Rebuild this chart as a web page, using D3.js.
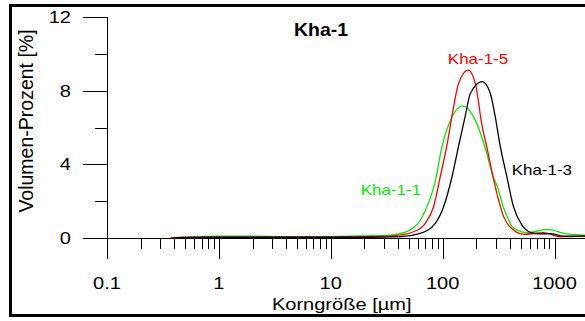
<!DOCTYPE html>
<html><head><meta charset="utf-8">
<script src="https://cdn.jsdelivr.net/npm/d3@7"></script>
<style>body{margin:0;background:#fff}svg{display:block}text{font-family:"Liberation Sans",Arial,sans-serif}</style>
</head><body>
<svg id="c" width="585" height="321"></svg>
<script>
// ---- data ----
const title = "Kha-1";
const seriesNames = ["Kha-1-1", "Kha-1-5", "Kha-1-3"];
const seriesColors = ["#00ee00", "#ff0000", "#000000"];
const sizes11 = [0.4,0.6,1,2,4,8,20,34,51,67,86,99,122,150,196,240,284,308,348,378,420,465,571,862,1300,1885];
const vals11  = [0.02,0.06,0.1,0.1,0.08,0.08,0.12,0.16,0.43,1.25,3.1,5.0,6.6,7.17,6.4,4.9,3.3,2.8,1.7,1.16,0.6,0.43,0.29,0.47,0.22,0.15];
const sizes15 = [0.37,0.6,1,3,10,20,36,55,70,83,95,109,121,139,169,196,225,249,295,351,430,530,794,1127,1885];
const vals15  = [0.02,0.04,0.05,0.05,0.05,0.07,0.12,0.34,0.8,1.7,3.3,5.0,6.6,8.4,9.12,8.4,6.1,4.9,2.8,1.16,0.43,0.2,0.29,0.07,0.1];
const sizes13 = [0.4,1,10,20,42,63,86,102,121,139,159,177,226,267,295,327,376,430,512,608,746,917,1199,1885];
const vals13  = [0.02,0.04,0.04,0.04,0.07,0.25,0.8,1.7,3.3,5.0,6.6,7.85,8.49,7.85,6.6,5.0,3.3,1.7,0.7,0.31,0.22,0.24,0.1,0.1];
const xTickLabels = ["0.1","1","10","100","1000"];
const xMajor = [0.1,1,10,100,1000];
const yTickLabels = ["0","4","8","12"];
const yMajor = [0,4,8,12];
const yMinor = [2,6,10];
const xTitle = "Korngröße [µm]";
const yTitle = "Volumen-Prozent [%]";

// ---- chart ----
const svg = d3.select("#c");
const x = d3.scaleLog().domain([0.1,1000]).range([107,554.5]);
const y = d3.scaleLinear().domain([0,12]).range([238,17]);

// frame
svg.append("rect").attr("x",10.5).attr("y",5.5).attr("width",620).attr("height",310)
  .attr("fill","none").attr("stroke","#000").attr("stroke-width",3);

// minor x ticks
const xMinor = [];
[0.1,1,10,100,1000].forEach(d=>{for(let k=2;k<=9;k++){const v=d*k; if(x(v)<=585) xMinor.push(v);}});
const g = svg.append("g").attr("shape-rendering","crispEdges");
const xMinorAxis = d3.axisBottom(x).tickValues(xMinor).tickSize(11).tickFormat("");
const xMajorAxis = d3.axisBottom(x).tickValues(xMajor).tickSize(21).tickFormat("");
g.append("g").attr("transform","translate(0,238)").call(xMinorAxis).call(s=>s.select(".domain").remove());
g.append("g").attr("transform","translate(0,238)").call(xMajorAxis).call(s=>s.select(".domain").remove());
g.append("line").attr("x1",107).attr("x2",585).attr("y1",238).attr("y2",238).attr("stroke","#000");
// y axis
const yMajAxis = d3.axisLeft(y).tickValues(yMajor).tickSize(24).tickFormat("");
const yMinAxis = d3.axisLeft(y).tickValues(yMinor).tickSize(12).tickFormat("");
g.append("g").attr("transform","translate(107,0)").call(yMajAxis).call(s=>s.select(".domain").remove());
g.append("g").attr("transform","translate(107,0)").call(yMinAxis).call(s=>s.select(".domain").remove());
g.append("line").attr("x1",107).attr("x2",107).attr("y1",y(12)).attr("y2",259).attr("stroke","#000");
g.selectAll(".tick line").attr("stroke","#000");

function stext(xp,yp,str,size,sx,anchor,weight,color){
  const t = svg.append("g").attr("transform",`translate(${xp},${yp}) scale(${sx},1)`)
    .append("text").attr("text-anchor",anchor).attr("font-size",size).attr("fill",color||"#000").text(str);
  if(weight) t.attr("font-weight",weight);
  return t;
}
// tick labels
xMajor.forEach((v,i)=>stext(x(v),288.5,xTickLabels[i],16.3,1.23,"middle"));
yMajor.forEach((v,i)=>stext(71,y(v)+5.9,yTickLabels[i],16.3,1.23,"end"));
// axis titles
stext(341.7,310,xTitle,16.3,1.23,"middle");
svg.append("text").attr("transform","translate(33,121) rotate(-90)").attr("text-anchor","middle")
  .attr("font-size",19.5).text(yTitle);
// chart title
stext(321,36,title,18,1.08,"middle","bold");

// curves
const line = d3.line().x(d=>x(d[0])).y(d=>y(d[1])).curve(d3.curveMonotoneX);
const series = [
  {s:sizes11,v:vals11,c:seriesColors[0]},
  {s:sizes15,v:vals15,c:seriesColors[1]},
  {s:sizes13,v:vals13,c:seriesColors[2]}
];
series.forEach(se=>{
  svg.append("path").datum(se.s.map((d,i)=>[d,se.v[i]])).attr("d",line)
    .attr("fill","none").attr("stroke",se.c).attr("stroke-width",1.3);
});
// series labels
stext(421,195,seriesNames[0],14.5,1.17,"end",null,seriesColors[0]);
stext(478,64,seriesNames[1],14.5,1.17,"middle",null,seriesColors[1]);
stext(511.7,175,seriesNames[2],14.5,1.17,"start",null,seriesColors[2]);
</script>
</body></html>
